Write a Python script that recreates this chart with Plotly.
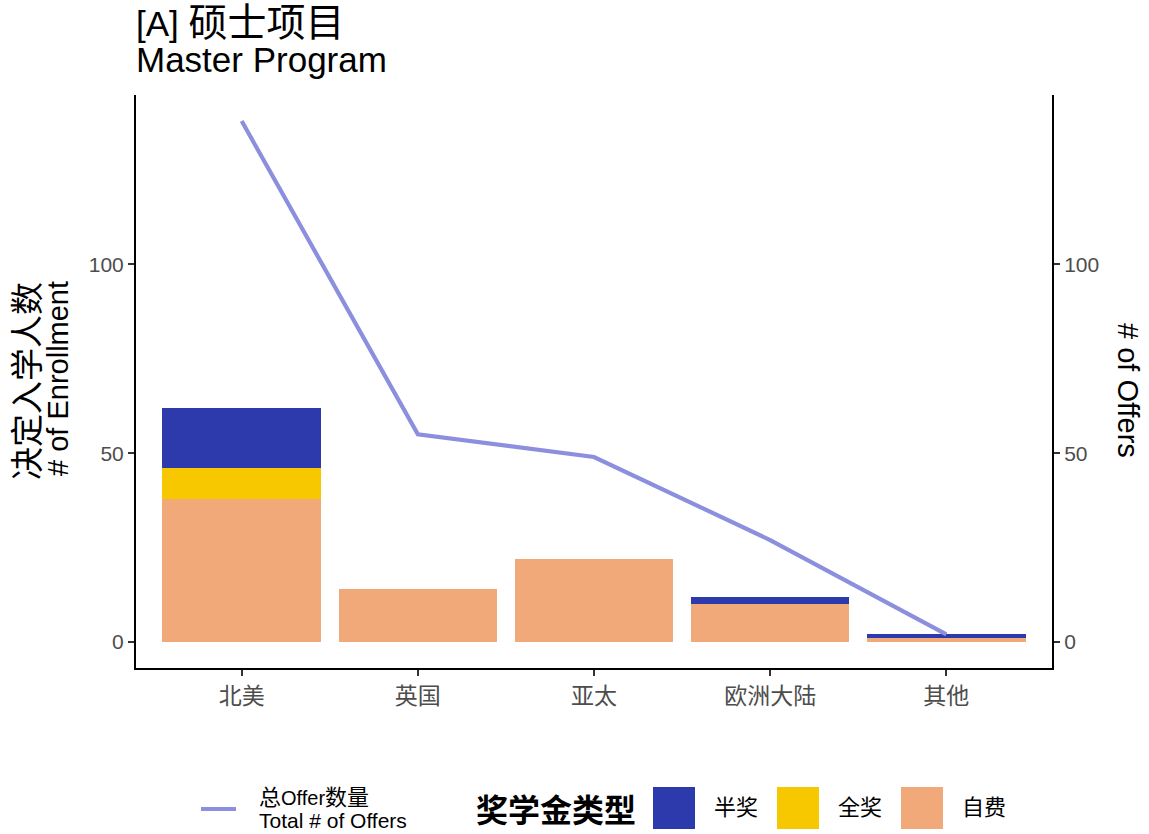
import plotly.graph_objects as go

# ---- data ----
regions = ["北美", "英国", "亚太", "欧洲大陆", "其他"]
self_funded = [38, 14, 22, 10, 1]      # 自费
full_scholar = [8, 0, 0, 0, 0]         # 全奖
half_scholar = [16, 0, 0, 2, 1]        # 半奖
total_offers = [138, 55, 49, 27, 2]    # 总Offer数量
y_ticks = [0, 50, 100]

# ---- style ----
C_HALF = "#2D3AAB"
C_FULL = "#F7C700"
C_SELF = "#F1A979"
C_LINE = "#8B8FDD"
FONT = "Liberation Sans, Arial, Noto Sans CJK SC, sans-serif"
TICKC = "#4D4D4D"

W, H = 1149, 834
PL, PR, PT, PB = 136, 1052, 95, 668
PW, PH = PR - PL, PB - PT


def px(x):
    return (x - PL) / PW


def py(y):
    return (PB - y) / PH


def cjk(s, size):
    return "<span style='font-size:%dpx'>%s</span>" % (size, s)


fig = go.Figure()
fig.add_trace(go.Bar(x=regions, y=self_funded, name="自费", marker=dict(color=C_SELF, line=dict(width=0)), showlegend=False))
fig.add_trace(go.Bar(x=regions, y=full_scholar, name="全奖", marker=dict(color=C_FULL, line=dict(width=0)), showlegend=False))
fig.add_trace(go.Bar(x=regions, y=half_scholar, name="半奖", marker=dict(color=C_HALF, line=dict(width=0)), showlegend=False))
fig.add_trace(go.Scatter(x=regions, y=total_offers, mode="lines", yaxis="y2",
                         line=dict(color=C_LINE, width=4.2), showlegend=False, name="总Offer数量"))

ymax = max(total_offers)
yr = [-0.05 * ymax, ymax * 1.05]

axis_common = dict(showline=True, linecolor="black", linewidth=2, ticks="outside", ticklen=6,
                   tickwidth=2, tickcolor="#333333",
                   showgrid=False, zeroline=False)
num_font = dict(family=FONT, size=21, color=TICKC)

fig.update_layout(
    width=W, height=H, autosize=False,
    margin=dict(l=PL, r=W - PR, t=PT, b=H - PB, pad=0),
    plot_bgcolor="white", paper_bgcolor="white",
    barmode="stack", bargap=0.1,
    font=dict(family=FONT, color="black"),
    xaxis=dict(type="category", range=[-0.6, 4.6], tickfont=dict(family=FONT, size=23, color=TICKC), **axis_common),
    yaxis=dict(range=yr, tickvals=y_ticks, tickfont=num_font, **axis_common),
    yaxis2=dict(range=yr, tickvals=y_ticks, overlaying="y", side="right", tickfont=num_font, **axis_common),
)

ann = []
# title
ann.append(dict(text="[A] " + cjk("硕士项目", 39), x=px(134), y=py(22), xanchor="left", yanchor="middle",
                font=dict(size=35, family=FONT, color="black")))
ann.append(dict(text="Master Program", x=px(134), y=py(60), xanchor="left", yanchor="middle",
                font=dict(size=35, family=FONT, color="black")))
# left axis title
ann.append(dict(text="决定入学人数", x=px(27), y=py(381), textangle=-90, xanchor="center", yanchor="middle",
                font=dict(size=33, family=FONT, color="black")))
ann.append(dict(text="# of Enrollment", x=px(58), y=py(379), textangle=-90, xanchor="center", yanchor="middle",
                font=dict(size=29, family=FONT, color="black")))
# right axis title
ann.append(dict(text="# of Offers", x=px(1128), y=py(390), textangle=90, xanchor="center", yanchor="middle",
                font=dict(size=29, family=FONT, color="black")))
# legend: line item
ann.append(dict(text=cjk("总", 22) + "Offer" + cjk("数量", 22), x=px(257), y=py(797), xanchor="left", yanchor="middle",
                font=dict(size=20, family=FONT, color="black")))
ann.append(dict(text="Total # of Offers", x=px(257), y=py(820), xanchor="left", yanchor="middle",
                font=dict(size=21, family=FONT, color="black")))
# legend title
ann.append(dict(text="<b>奖学金类型</b>", x=px(474), y=py(808), xanchor="left", yanchor="middle",
                font=dict(size=32, family="Noto Sans CJK SC, sans-serif", color="black")))
legend_items = [("半奖", C_HALF, 653, 712), ("全奖", C_FULL, 777, 836), ("自费", C_SELF, 901, 960)]
shapes = [dict(type="line", xref="paper", yref="paper", x0=px(201), x1=px(236), y0=py(809), y1=py(809),
               line=dict(color=C_LINE, width=4.2))]
for lab, col, sx, tx in legend_items:
    shapes.append(dict(type="rect", xref="paper", yref="paper", x0=px(sx), x1=px(sx + 42),
                       y0=py(829), y1=py(787), fillcolor=col, line=dict(width=0)))
    ann.append(dict(text=lab, x=px(tx), y=py(808), xanchor="left", yanchor="middle",
                    font=dict(size=22, family=FONT, color="black")))

for a in ann:
    a.update(xref="paper", yref="paper", showarrow=False)

fig.update_layout(annotations=ann, shapes=shapes)
fig.write_html("out.html", config={"displayModeBar": False},
               post_script="document.body.style.margin='0px';document.body.style.overflow='hidden';")
